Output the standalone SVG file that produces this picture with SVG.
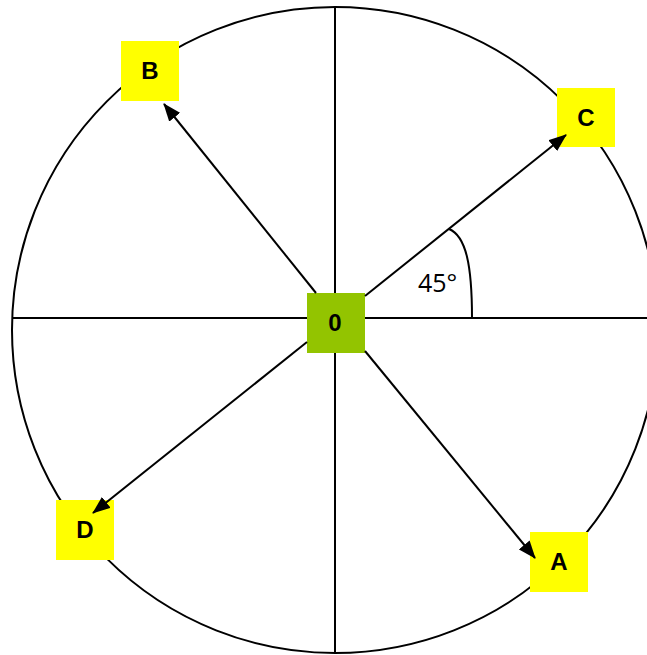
<svg xmlns="http://www.w3.org/2000/svg" width="647" height="655" viewBox="0 0 647 655">
<style>
.ln{stroke:#000;stroke-width:2;fill:none}
.box{fill:#FFFF00}
.lbl{font-family:"Liberation Sans",Arial,sans-serif;font-weight:bold;font-size:24px;fill:#000;text-anchor:middle}
.ang{font-family:"Open Sans","Liberation Sans",Arial,sans-serif;font-size:25px;fill:#000}
</style>
<defs>
<marker id="ah" markerUnits="userSpaceOnUse" viewBox="0 0 18 14" markerWidth="18" markerHeight="14" refX="17" refY="7" orient="auto">
<path d="M0,0 L18,7 L0,14 z" fill="#000"/>
</marker>
</defs>
<rect width="647" height="655" fill="#fff"/>
<g id="background">
<circle cx="335" cy="330" r="323" class="ln"/>
<line x1="13" y1="318" x2="647" y2="318" class="ln"/>
<line x1="335" y1="7" x2="335" y2="653" class="ln"/>
<path d="M449,229 C466,236 472,265 472,318" class="ln"/>
<text x="418" y="292" class="ang">45°</text>
</g>
<g id="node-0">
<rect x="307" y="293" width="58" height="60" fill="#93C400"/>
<text x="335" y="331" class="lbl">0</text>
</g>
<g id="node-B">
<rect x="121" y="41" width="58" height="60" class="box"/>
<text x="150" y="79" class="lbl">B</text>
</g>
<g id="node-C">
<rect x="557" y="88" width="58" height="59" class="box"/>
<text x="586" y="126" class="lbl">C</text>
</g>
<g id="node-D">
<rect x="56" y="500" width="58" height="60" class="box"/>
<text x="85" y="538" class="lbl">D</text>
</g>
<g id="node-A">
<rect x="530" y="532" width="58" height="60" class="box"/>
<text x="559" y="570" class="lbl">A</text>
</g>
<g id="connectors">
<line x1="316" y1="293" x2="164" y2="104" class="ln" marker-end="url(#ah)"/>
<line x1="365" y1="296" x2="566" y2="135" class="ln" marker-end="url(#ah)"/>
<line x1="307" y1="342" x2="93" y2="513" class="ln" marker-end="url(#ah)"/>
<line x1="365" y1="351" x2="535" y2="558" class="ln" marker-end="url(#ah)"/>
</g>
</svg>
